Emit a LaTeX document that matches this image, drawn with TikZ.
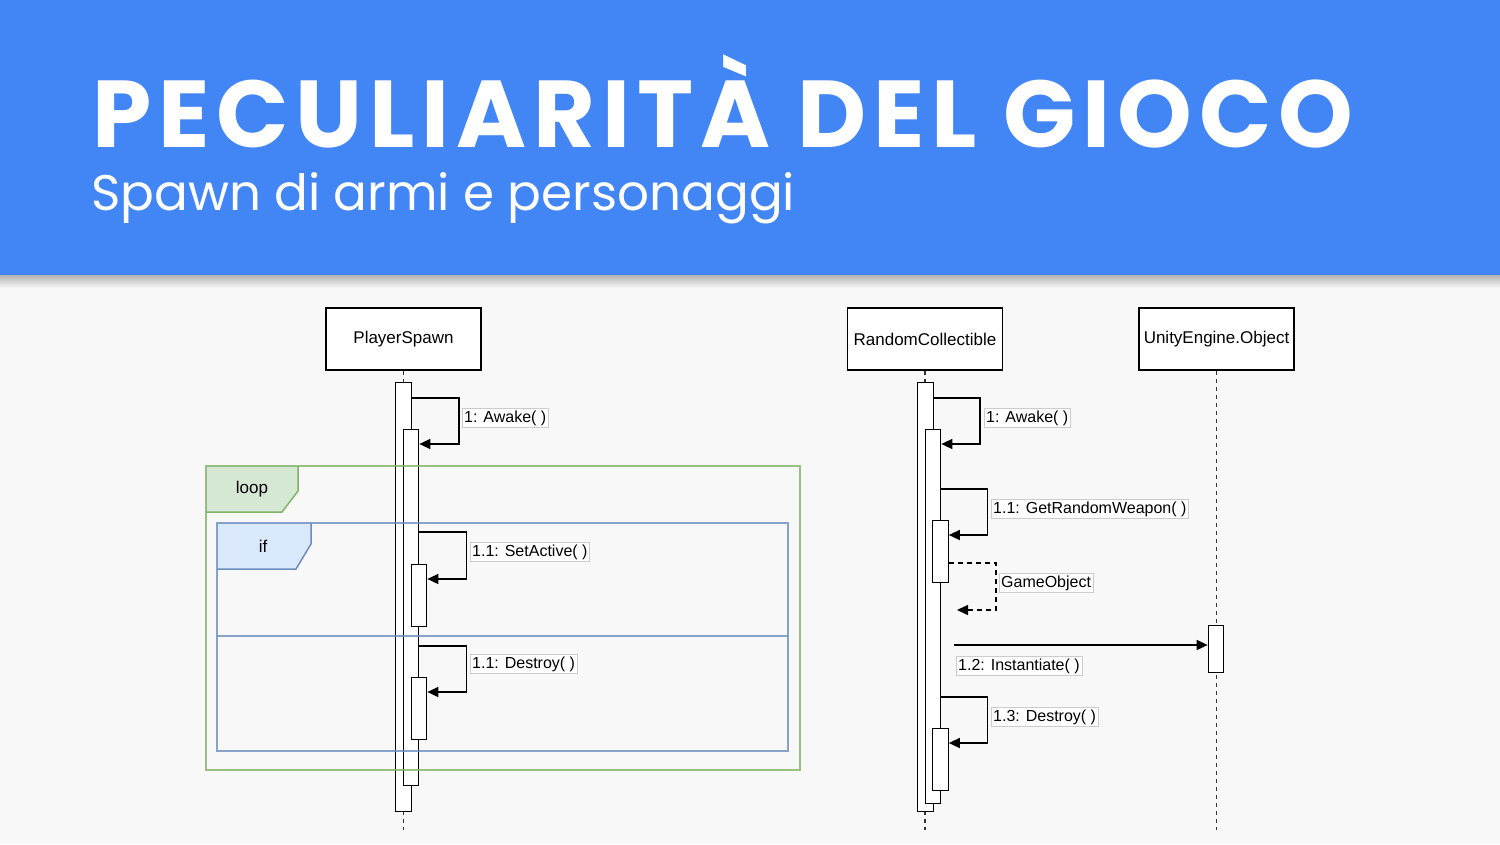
\documentclass[tikz,border=0pt]{standalone}
\usepackage{fontspec}
\setmainfont{Liberation Sans}
\newfontfamily\slidefont{Poppins}
\usetikzlibrary{arrows.meta}
\definecolor{slideblue}{HTML}{4285F4}
\definecolor{slidebg}{HTML}{F8F8F8}
\definecolor{loopline}{HTML}{82B366}
\definecolor{loopfill}{HTML}{D5E8D4}
\definecolor{ifline}{HTML}{6C8EBF}
\definecolor{iffill}{HTML}{DAE8FC}
\tikzset{
  lifebox/.style={draw, line width=1.5pt, fill=white, minimum width=155pt, minimum height=62pt, font=\fontsize{17}{20}\selectfont},
  actbar/.style={draw, line width=1.2pt, fill=white, minimum width=15.5pt, anchor=north, inner sep=0pt},
  lifeline/.style={line width=1.8pt, dash pattern=on 4pt off 4pt, black!80},
  msg/.style={line width=1.5pt, -{Triangle[length=11pt,width=10pt]}},
  reply/.style={msg, dash pattern=on 5pt off 4pt},
  msglabel/.style={draw=black!20, fill=white, inner sep=2pt, anchor=west, font=\fontsize{16}{18}\selectfont},
  frametag/.style={font=\fontsize{17}{20}\selectfont}
}
\begin{document}
\begin{tikzpicture}[x=1pt,y=-1pt]
   \useasboundingbox (0,0) rectangle (1500,844);
   \fill[slidebg] (0,0) rectangle (1500,844);
   \shade[top color=black!30, bottom color=slidebg] (0,275) rectangle (1500,288);
   \fill[slideblue] (0,0) rectangle (1500,275);
   \node[anchor=base west, inner sep=0, text=white, font=\slidefont\bfseries\fontsize{95}{100}\selectfont\addfontfeature{LetterSpace=7.2}] (title) at (92,147) {PECULIARITÀ DEL GIOCO};
   \node[anchor=base west, inner sep=0, text=white, font=\slidefont\fontsize{50}{56}\selectfont] (subtitle) at (91,210) {Spawn di armi e personaggi};
   % tabs of the frames
   \fill[loopfill] (206,466) -- (298,466) -- (298,491) -- (282,512) -- (206,512) -- cycle;
   \fill[iffill] (217,523) -- (311,523) -- (311,544) -- (296,569) -- (217,569) -- cycle;
   \node[frametag] (looptag) at (252,489) {loop};
   \node[frametag] (iftag) at (263,546) {if};
   % lifelines
   \node[lifebox] (ps) at (403.5,339) {PlayerSpawn};
   \node[lifebox] (rc) at (925,339) {RandomCollectible};
   \node[lifebox] (ue) at (1216.5,339) {UnityEngine.Object};
   \coordinate (psend) at (403.5,830);
   \coordinate (rcend) at (925,830);
   \coordinate (ueend) at (1216.5,830);
   \draw[lifeline] (ps) -- (psend);
   \draw[lifeline] (rc) -- (rcend);
   \draw[lifeline] (ue) -- (ueend);
   % activations
   \node[actbar, minimum height=429pt] (ps1) at (403.5,382) {};
   \node[actbar, minimum height=356pt] (ps2) at (411,429) {};
   \node[actbar, minimum height=62pt] (ps3) at (419,564) {};
   \node[actbar, minimum height=62pt] (ps4) at (419,677) {};
   \node[actbar, minimum height=429pt] (rc1) at (925.5,382) {};
   \node[actbar, minimum height=374pt] (rc2) at (933,429) {};
   \node[actbar, minimum height=62pt] (rc3) at (940.5,520) {};
   \node[actbar, minimum height=62pt] (rc4) at (940.5,728) {};
   \node[actbar, minimum height=47pt] (ue1) at (1216,625) {};
   % PlayerSpawn messages
   \draw[msg] ([yshift=-16pt]ps1.north east) -- ++(47,0) |- ([yshift=-15pt]ps2.north east);
   \node[msglabel] (psawake) at (462,418) {1: Awake( )};
   \draw[msg] ([yshift=-103pt]ps2.north east) -- ++(47,0) |- ([yshift=-15pt]ps3.north east);
   \node[msglabel] (setactive) at (470,552) {1.1: SetActive( )};
   \draw[msg] ([yshift=-217pt]ps2.north east) -- ++(47,0) |- ([yshift=-15pt]ps4.north east);
   \node[msglabel] (psdestroy) at (470,664) {1.1: Destroy( )};
   % RandomCollectible messages
   \draw[msg] ([yshift=-16pt]rc1.north east) -- ++(46,0) |- ([yshift=-15pt]rc2.north east);
   \node[msglabel] (rcawake) at (984,418) {1: Awake( )};
   \draw[msg] ([yshift=-60pt]rc2.north east) -- ++(46,0) |- ([yshift=-15pt]rc3.north east);
   \node[msglabel] (getweapon) at (991,509) {1.1: GetRandomWeapon( )};
   \coordinate (weaponback) at (957,610);
   \draw[reply] ([yshift=-43pt]rc3.north east) -- ++(47,0) |- (weaponback);
   \node[msglabel] (gameobj) at (999,583) {GameObject};
   \coordinate (instfrom) at (954,645);
   \draw[msg] (instfrom) -- (instfrom -| ue1.west);
   \node[msglabel] (instantiate) at (956,666) {1.2: Instantiate( )};
   \draw[msg] ([yshift=-268pt]rc2.north east) -- ++(46,0) |- ([yshift=-15pt]rc4.north east);
   \node[msglabel] (rcdestroy) at (991,717) {1.3: Destroy( )};
   % frames
   \draw[loopline, line width=1.5pt, draw opacity=.8] (206,466) rectangle (800,770);
   \draw[loopline, line width=1.5pt] (298,466) -- (298,491) -- (282,512) -- (206,512);
   \draw[ifline, line width=1.5pt, draw opacity=.8] (217,523) rectangle (788,751);
   \draw[ifline, line width=1.5pt, draw opacity=.8] (217,636) -- (788,636);
   \draw[ifline, line width=1.5pt] (311,523) -- (311,544) -- (296,569) -- (217,569);
\end{tikzpicture}
\end{document}
